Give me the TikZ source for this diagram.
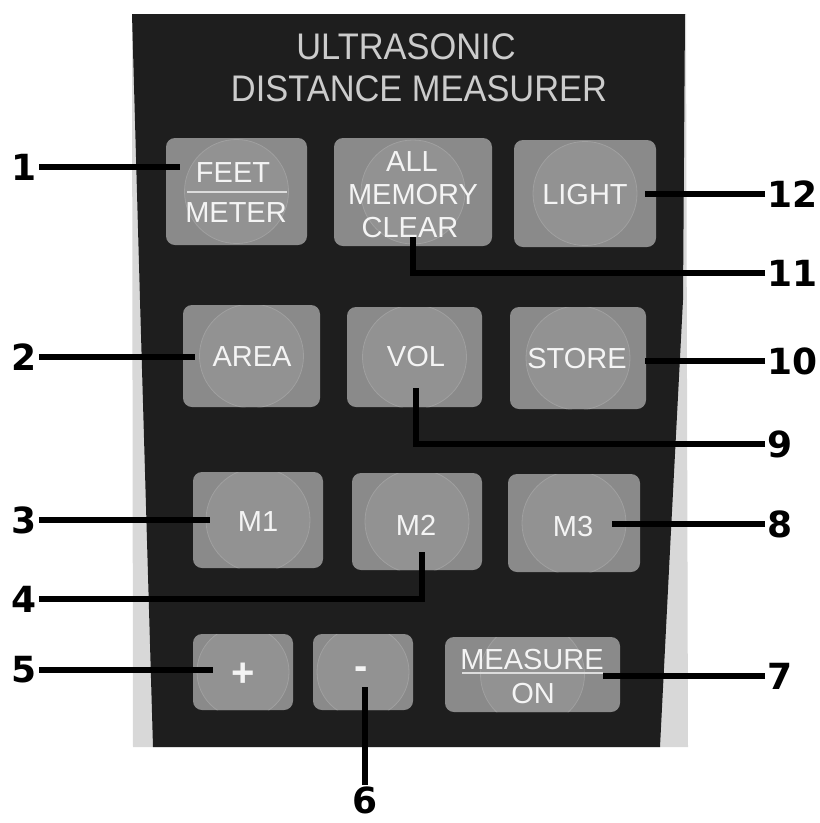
\documentclass[tikz,border=0pt]{standalone}
\usepackage{fontspec}
\newfontfamily\lblfont{Liberation Sans}
\newfontfamily\titlefont{Liberation Sans}[FakeStretch=0.93]
\newfontfamily\numfont{DejaVu Sans}
\definecolor{panel}{HTML}{1E1E1E}
\definecolor{strip}{HTML}{D8D8D8}
\definecolor{keygrey}{HTML}{8A8A8A}
\definecolor{domegrey}{HTML}{929292}
\definecolor{rimgrey}{HTML}{A0A0A0}
\definecolor{keytext}{HTML}{F4F4F4}
\definecolor{titletext}{HTML}{CCCCCC}
\tikzset{
  key/.style={fill=keygrey, rounded corners=9pt, inner sep=0pt,
    path picture={\fill[domegrey, draw=rimgrey, line width=0.8pt]
      (path picture bounding box.center) circle (#1);}},
  key/.default=52,
  lbl/.style={text=keytext, font=\lblfont\fontsize{29}{29}\selectfont, inner sep=0pt},
  sym/.style={text=keytext, font=\lblfont\bfseries\fontsize{40}{40}\selectfont, inner sep=0pt},
  ttl/.style={text=titletext, font=\titlefont\fontsize{37}{37}\selectfont, inner sep=0pt},
  num/.style={font=\numfont\bfseries\fontsize{36}{36}\selectfont, inner sep=2pt},
  lead/.style={line width=5.2pt, black},
  sep/.style={line width=1.5pt, keytext!90!black}
}
\newcommand\mkkey[6][52]{%
  \node[key=#1, minimum width={(#4-#2)*1pt}, minimum height={(#5-#3)*1pt}]
    (#6) at ({(#2+#4)/2},{(#3+#5)/2}) {};}
\begin{document}
\begin{tikzpicture}[x=1pt,y=-1pt]
\useasboundingbox (0,0) rectangle (820,823);
\fill[white] (0,0) rectangle (820,823);
% panel
\fill[strip] (132,14) -- (686,14) -- (688,747) -- (133,747) -- cycle;
\fill[panel] (132,14) -- (685,14) -- (683,300) -- (670,550) -- (660,747) -- (153,747) -- (140,300) -- cycle;
% title
\node[ttl] (t1) at (406,47) {ULTRASONIC};
\node[ttl] (t2) at (419,89) {DISTANCE MEASURER};
% keys
\mkkey{166}{138}{307}{245}{b1}
\mkkey{334}{138}{492}{246}{b11}
\mkkey{514}{140}{656}{247}{b12}
\mkkey{183}{305}{320}{407}{b2}
\mkkey{347}{307}{482}{407}{b9}
\mkkey{510}{307}{646}{409}{b10}
\mkkey{193}{472}{323}{568}{b3}
\mkkey{352}{473}{482}{570}{b4}
\mkkey{508}{474}{640}{572}{b8}
\mkkey[46]{193}{634}{293}{710}{b5}
\mkkey[46]{313}{634}{413}{710}{b6}
\mkkey[52]{445}{637}{620}{712}{b7}
% key labels
\node[lbl] (l1a) at (233,173) {FEET};
\node[lbl] (l1b) at (236,213) {METER};
\coordinate (s1a) at (187,192); \coordinate (s1b) at (287,192);
\draw[sep] (s1a) -- (s1b);
\node[lbl] (l11a) at (412,162) {ALL};
\node[lbl] (l11b) at (413,195) {MEMORY};
\node[lbl] (l11c) at (410,228) {CLEAR};
\node[lbl] (l12) at (585,195) {LIGHT};
\node[lbl] (l2) at (252,357) {AREA};
\node[lbl] (l9) at (416,357) {VOL};
\node[lbl] (l10) at (577,359) {STORE};
\node[lbl] (l3) at (258,522) {M1};
\node[lbl] (l4) at (416,525) {M2};
\node[lbl] (l8) at (573,527) {M3};
\node[sym] (l5) at (243,675) {+};
\node[sym] (l6) at (361,673) {-};
\node[lbl] (l7a) at (532,660) {MEASURE};
\node[lbl] (l7b) at (533,694) {ON};
\coordinate (s7a) at (462,673); \coordinate (s7b) at (603,673);
\draw[sep] (s7a) -- (s7b);
% number labels
\node[num, anchor=east] (n1) at (39,167) {1};
\node[num, anchor=east] (n2) at (39,357) {2};
\node[num, anchor=east] (n3) at (39,520) {3};
\node[num, anchor=east] (n4) at (39,599) {4};
\node[num, anchor=east] (n5) at (39,670) {5};
\node[num, anchor=north] (n6) at (365,785) {6};
\node[num, anchor=west] (n7) at (765,676) {7};
\node[num, anchor=west] (n8) at (765,524) {8};
\node[num, anchor=west] (n9) at (765,444) {9};
\node[num, anchor=west] (n10) at (765,361) {10};
\node[num, anchor=west] (n11) at (765,273) {11};
\node[num, anchor=west] (n12) at (765,194) {12};
% leader end points
\coordinate (c1) at (180,167);
\coordinate (c2) at (195,357);
\coordinate (c3) at (210,520);
\coordinate (c4) at (422,552);
\coordinate (c5) at (213,670);
\coordinate (c6) at (365,687);
\coordinate (c7) at (603,676);
\coordinate (c8) at (612,524);
\coordinate (c9) at (416,388);
\coordinate (c10) at (645,361);
\coordinate (c11) at (413,237);
\coordinate (c12) at (645,194);
% leaders
\draw[lead] (n1.east) -- (c1);
\draw[lead] (n2.east) -- (c2);
\draw[lead] (n3.east) -- (c3);
\draw[lead] (n4.east) -| (c4);
\draw[lead] (n5.east) -- (c5);
\draw[lead] (n6.north) -- (c6);
\draw[lead] (n7.west) -- (c7);
\draw[lead] (n8.west) -- (c8);
\draw[lead] (n9.west) -| (c9);
\draw[lead] (n10.west) -- (c10);
\draw[lead] (n11.west) -| (c11);
\draw[lead] (n12.west) -- (c12);
\end{tikzpicture}
\end{document}
